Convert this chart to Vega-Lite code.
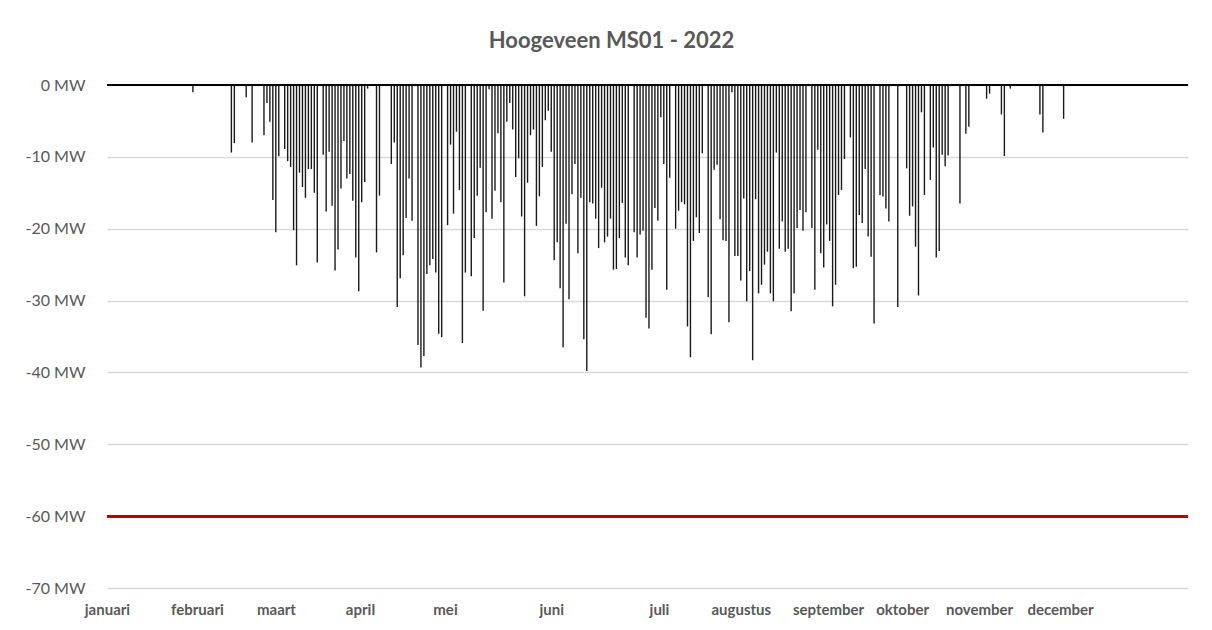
{
  "$schema": "https://vega.github.io/schema/vega-lite/v6.json",
  "width": 1081,
  "height": 503,
  "autosize": {"type": "none"},
  "padding": {"left": 107, "top": 85, "right": 24, "bottom": 42},
  "background": "white",
  "title": {"text": "Hoogeveen MS01 - 2022", "font": "Lato", "fontSize": 22, "fontWeight": "bold", "color": "#595959", "offset": 24, "anchor": "middle", "dx": -36},
  "config": {"view": {"stroke": null}},
  "data": {"values": [
    {"dag": "2022-01-30", "mw": -1.0},
    {"dag": "2022-02-12", "mw": -9.4},
    {"dag": "2022-02-13", "mw": -8.1},
    {"dag": "2022-02-17", "mw": -1.7},
    {"dag": "2022-02-19", "mw": -8.0},
    {"dag": "2022-02-23", "mw": -7.0},
    {"dag": "2022-02-24", "mw": -2.5},
    {"dag": "2022-02-25", "mw": -5.1},
    {"dag": "2022-02-26", "mw": -16.0},
    {"dag": "2022-02-27", "mw": -20.5},
    {"dag": "2022-02-28", "mw": -9.9},
    {"dag": "2022-03-02", "mw": -8.9},
    {"dag": "2022-03-03", "mw": -10.6},
    {"dag": "2022-03-04", "mw": -11.4},
    {"dag": "2022-03-05", "mw": -20.2},
    {"dag": "2022-03-06", "mw": -25.1},
    {"dag": "2022-03-07", "mw": -12.2},
    {"dag": "2022-03-08", "mw": -14.2},
    {"dag": "2022-03-09", "mw": -15.7},
    {"dag": "2022-03-10", "mw": -11.7},
    {"dag": "2022-03-11", "mw": -11.7},
    {"dag": "2022-03-12", "mw": -15.0},
    {"dag": "2022-03-13", "mw": -24.7},
    {"dag": "2022-03-15", "mw": -9.7},
    {"dag": "2022-03-16", "mw": -17.6},
    {"dag": "2022-03-17", "mw": -9.3},
    {"dag": "2022-03-18", "mw": -16.8},
    {"dag": "2022-03-19", "mw": -25.8},
    {"dag": "2022-03-20", "mw": -22.9},
    {"dag": "2022-03-21", "mw": -14.4},
    {"dag": "2022-03-22", "mw": -7.8},
    {"dag": "2022-03-23", "mw": -13.0},
    {"dag": "2022-03-24", "mw": -12.4},
    {"dag": "2022-03-25", "mw": -16.1},
    {"dag": "2022-03-26", "mw": -24.0},
    {"dag": "2022-03-27", "mw": -28.7},
    {"dag": "2022-03-28", "mw": -16.3},
    {"dag": "2022-03-29", "mw": -13.5},
    {"dag": "2022-03-30", "mw": -0.5},
    {"dag": "2022-04-02", "mw": -23.3},
    {"dag": "2022-04-03", "mw": -15.4},
    {"dag": "2022-04-07", "mw": -11.0},
    {"dag": "2022-04-08", "mw": -8.0},
    {"dag": "2022-04-09", "mw": -30.9},
    {"dag": "2022-04-10", "mw": -26.9},
    {"dag": "2022-04-11", "mw": -23.7},
    {"dag": "2022-04-12", "mw": -18.5},
    {"dag": "2022-04-13", "mw": -13.0},
    {"dag": "2022-04-14", "mw": -18.9},
    {"dag": "2022-04-16", "mw": -36.2},
    {"dag": "2022-04-17", "mw": -39.3},
    {"dag": "2022-04-18", "mw": -37.7},
    {"dag": "2022-04-19", "mw": -26.3},
    {"dag": "2022-04-20", "mw": -25.1},
    {"dag": "2022-04-21", "mw": -24.2},
    {"dag": "2022-04-22", "mw": -26.1},
    {"dag": "2022-04-23", "mw": -34.6},
    {"dag": "2022-04-24", "mw": -35.1},
    {"dag": "2022-04-26", "mw": -19.5},
    {"dag": "2022-04-27", "mw": -8.3},
    {"dag": "2022-04-28", "mw": -17.9},
    {"dag": "2022-04-29", "mw": -6.5},
    {"dag": "2022-04-30", "mw": -14.6},
    {"dag": "2022-05-01", "mw": -35.9},
    {"dag": "2022-05-02", "mw": -26.1},
    {"dag": "2022-05-04", "mw": -26.6},
    {"dag": "2022-05-05", "mw": -21.3},
    {"dag": "2022-05-06", "mw": -15.4},
    {"dag": "2022-05-07", "mw": -11.5},
    {"dag": "2022-05-08", "mw": -31.4},
    {"dag": "2022-05-09", "mw": -17.7},
    {"dag": "2022-05-10", "mw": -0.6},
    {"dag": "2022-05-11", "mw": -18.6},
    {"dag": "2022-05-12", "mw": -14.7},
    {"dag": "2022-05-13", "mw": -6.7},
    {"dag": "2022-05-14", "mw": -16.3},
    {"dag": "2022-05-15", "mw": -27.5},
    {"dag": "2022-05-16", "mw": -5.1},
    {"dag": "2022-05-17", "mw": -2.5},
    {"dag": "2022-05-18", "mw": -6.2},
    {"dag": "2022-05-19", "mw": -12.8},
    {"dag": "2022-05-20", "mw": -10.2},
    {"dag": "2022-05-21", "mw": -18.3},
    {"dag": "2022-05-22", "mw": -29.4},
    {"dag": "2022-05-23", "mw": -13.6},
    {"dag": "2022-05-24", "mw": -7.0},
    {"dag": "2022-05-25", "mw": -6.2},
    {"dag": "2022-05-26", "mw": -19.6},
    {"dag": "2022-05-27", "mw": -15.5},
    {"dag": "2022-05-28", "mw": -11.4},
    {"dag": "2022-05-29", "mw": -4.9},
    {"dag": "2022-05-30", "mw": -3.6},
    {"dag": "2022-05-31", "mw": -9.3},
    {"dag": "2022-06-01", "mw": -24.4},
    {"dag": "2022-06-02", "mw": -21.9},
    {"dag": "2022-06-03", "mw": -28.3},
    {"dag": "2022-06-04", "mw": -36.5},
    {"dag": "2022-06-05", "mw": -19.3},
    {"dag": "2022-06-06", "mw": -29.8},
    {"dag": "2022-06-07", "mw": -15.2},
    {"dag": "2022-06-08", "mw": -11.0},
    {"dag": "2022-06-09", "mw": -23.4},
    {"dag": "2022-06-10", "mw": -15.7},
    {"dag": "2022-06-11", "mw": -35.4},
    {"dag": "2022-06-12", "mw": -39.8},
    {"dag": "2022-06-13", "mw": -16.3},
    {"dag": "2022-06-14", "mw": -16.5},
    {"dag": "2022-06-15", "mw": -18.6},
    {"dag": "2022-06-16", "mw": -22.7},
    {"dag": "2022-06-17", "mw": -14.3},
    {"dag": "2022-06-18", "mw": -21.9},
    {"dag": "2022-06-19", "mw": -21.1},
    {"dag": "2022-06-20", "mw": -18.6},
    {"dag": "2022-06-21", "mw": -25.7},
    {"dag": "2022-06-22", "mw": -25.6},
    {"dag": "2022-06-23", "mw": -21.3},
    {"dag": "2022-06-24", "mw": -16.4},
    {"dag": "2022-06-25", "mw": -24.0},
    {"dag": "2022-06-26", "mw": -25.1},
    {"dag": "2022-06-28", "mw": -20.5},
    {"dag": "2022-06-29", "mw": -24.0},
    {"dag": "2022-06-30", "mw": -20.8},
    {"dag": "2022-07-01", "mw": -20.3},
    {"dag": "2022-07-02", "mw": -32.4},
    {"dag": "2022-07-03", "mw": -33.9},
    {"dag": "2022-07-04", "mw": -25.7},
    {"dag": "2022-07-05", "mw": -17.1},
    {"dag": "2022-07-06", "mw": -18.9},
    {"dag": "2022-07-07", "mw": -4.5},
    {"dag": "2022-07-08", "mw": -11.0},
    {"dag": "2022-07-09", "mw": -28.5},
    {"dag": "2022-07-10", "mw": -12.9},
    {"dag": "2022-07-12", "mw": -20.0},
    {"dag": "2022-07-13", "mw": -17.5},
    {"dag": "2022-07-14", "mw": -16.3},
    {"dag": "2022-07-15", "mw": -16.6},
    {"dag": "2022-07-16", "mw": -33.6},
    {"dag": "2022-07-17", "mw": -37.9},
    {"dag": "2022-07-18", "mw": -21.7},
    {"dag": "2022-07-19", "mw": -18.4},
    {"dag": "2022-07-20", "mw": -20.6},
    {"dag": "2022-07-21", "mw": -9.5},
    {"dag": "2022-07-23", "mw": -29.5},
    {"dag": "2022-07-24", "mw": -34.7},
    {"dag": "2022-07-25", "mw": -11.8},
    {"dag": "2022-07-26", "mw": -11.1},
    {"dag": "2022-07-27", "mw": -18.7},
    {"dag": "2022-07-28", "mw": -21.6},
    {"dag": "2022-07-29", "mw": -21.7},
    {"dag": "2022-07-30", "mw": -33.0},
    {"dag": "2022-07-31", "mw": -1.0},
    {"dag": "2022-08-01", "mw": -23.8},
    {"dag": "2022-08-02", "mw": -23.8},
    {"dag": "2022-08-03", "mw": -27.2},
    {"dag": "2022-08-04", "mw": -15.8},
    {"dag": "2022-08-05", "mw": -30.1},
    {"dag": "2022-08-06", "mw": -25.9},
    {"dag": "2022-08-07", "mw": -38.3},
    {"dag": "2022-08-08", "mw": -15.9},
    {"dag": "2022-08-09", "mw": -29.0},
    {"dag": "2022-08-10", "mw": -27.8},
    {"dag": "2022-08-11", "mw": -25.0},
    {"dag": "2022-08-12", "mw": -23.2},
    {"dag": "2022-08-13", "mw": -29.0},
    {"dag": "2022-08-14", "mw": -30.1},
    {"dag": "2022-08-15", "mw": -9.4},
    {"dag": "2022-08-16", "mw": -22.8},
    {"dag": "2022-08-17", "mw": -19.0},
    {"dag": "2022-08-18", "mw": -23.2},
    {"dag": "2022-08-19", "mw": -22.8},
    {"dag": "2022-08-20", "mw": -31.5},
    {"dag": "2022-08-21", "mw": -29.0},
    {"dag": "2022-08-22", "mw": -19.9},
    {"dag": "2022-08-23", "mw": -17.4},
    {"dag": "2022-08-24", "mw": -20.3},
    {"dag": "2022-08-25", "mw": -17.7},
    {"dag": "2022-08-27", "mw": -19.9},
    {"dag": "2022-08-28", "mw": -28.5},
    {"dag": "2022-08-29", "mw": -9.0},
    {"dag": "2022-08-30", "mw": -23.4},
    {"dag": "2022-08-31", "mw": -25.4},
    {"dag": "2022-09-01", "mw": -19.4},
    {"dag": "2022-09-02", "mw": -21.7},
    {"dag": "2022-09-03", "mw": -30.8},
    {"dag": "2022-09-04", "mw": -27.8},
    {"dag": "2022-09-05", "mw": -15.3},
    {"dag": "2022-09-06", "mw": -14.6},
    {"dag": "2022-09-07", "mw": -10.3},
    {"dag": "2022-09-09", "mw": -7.3},
    {"dag": "2022-09-10", "mw": -25.5},
    {"dag": "2022-09-11", "mw": -25.3},
    {"dag": "2022-09-12", "mw": -18.1},
    {"dag": "2022-09-13", "mw": -19.2},
    {"dag": "2022-09-14", "mw": -11.7},
    {"dag": "2022-09-15", "mw": -21.1},
    {"dag": "2022-09-16", "mw": -23.9},
    {"dag": "2022-09-17", "mw": -33.2},
    {"dag": "2022-09-19", "mw": -15.3},
    {"dag": "2022-09-20", "mw": -15.5},
    {"dag": "2022-09-21", "mw": -17.2},
    {"dag": "2022-09-22", "mw": -19.0},
    {"dag": "2022-09-25", "mw": -30.9},
    {"dag": "2022-09-28", "mw": -11.6},
    {"dag": "2022-09-29", "mw": -18.2},
    {"dag": "2022-09-30", "mw": -16.9},
    {"dag": "2022-10-01", "mw": -22.5},
    {"dag": "2022-10-02", "mw": -29.3},
    {"dag": "2022-10-03", "mw": -3.8},
    {"dag": "2022-10-04", "mw": -15.3},
    {"dag": "2022-10-06", "mw": -13.2},
    {"dag": "2022-10-07", "mw": -8.7},
    {"dag": "2022-10-08", "mw": -24.0},
    {"dag": "2022-10-09", "mw": -23.1},
    {"dag": "2022-10-10", "mw": -9.7},
    {"dag": "2022-10-11", "mw": -11.3},
    {"dag": "2022-10-12", "mw": -9.8},
    {"dag": "2022-10-16", "mw": -16.5},
    {"dag": "2022-10-18", "mw": -6.8},
    {"dag": "2022-10-19", "mw": -5.8},
    {"dag": "2022-10-25", "mw": -1.9},
    {"dag": "2022-10-26", "mw": -1.2},
    {"dag": "2022-10-30", "mw": -4.1},
    {"dag": "2022-10-31", "mw": -9.9},
    {"dag": "2022-11-02", "mw": -0.5},
    {"dag": "2022-11-12", "mw": -4.1},
    {"dag": "2022-11-13", "mw": -6.6},
    {"dag": "2022-11-20", "mw": -4.7}
  ]},
  "layer": [
    {
      "mark": {"type": "rule", "color": "#1a1a1a", "strokeWidth": 1.4},
      "encoding": {
        "x": {
          "field": "dag", "type": "temporal",
          "scale": {"type": "utc", "domain": [{"year": 2022, "month": 1, "date": 1, "utc": true}, {"year": 2023, "month": 1, "date": 1, "utc": true}]},
          "axis": {
            "values": [
              {"year": 2022, "month": 1, "date": 1, "utc": true},
              {"year": 2022, "month": 1, "date": 31, "hours": 9, "utc": true},
              {"year": 2022, "month": 2, "date": 27, "hours": 1, "utc": true},
              {"year": 2022, "month": 3, "date": 27, "hours": 10, "utc": true},
              {"year": 2022, "month": 4, "date": 25, "hours": 3, "utc": true},
              {"year": 2022, "month": 5, "date": 31, "utc": true},
              {"year": 2022, "month": 7, "date": 6, "hours": 9, "utc": true},
              {"year": 2022, "month": 8, "date": 3, "utc": true},
              {"year": 2022, "month": 9, "date": 1, "hours": 11, "utc": true},
              {"year": 2022, "month": 9, "date": 26, "hours": 11, "utc": true},
              {"year": 2022, "month": 10, "date": 22, "hours": 11, "utc": true},
              {"year": 2022, "month": 11, "date": 18, "hours": 19, "utc": true}
            ],
            "labelExpr": "['januari','februari','maart','april','mei','juni','juli','augustus','september','oktober','november','december'][round(datum.index * 11)]",
            "grid": false, "domain": false, "ticks": false, "tickSize": 0,
            "labelPadding": 14, "labelFont": "Lato", "labelFontSize": 15, "labelFontWeight": "bold",
            "labelColor": "#595959", "labelAlign": "center", "labelFlush": false, "labelOverlap": false,
            "title": null
          }
        },
        "y": {
          "field": "mw", "type": "quantitative",
          "scale": {"domain": [-70, 0], "nice": false, "zero": false},
          "axis": {
            "values": [-70, -60, -50, -40, -30, -20, -10, 0],
            "labelExpr": "datum.value + ' MW'",
            "grid": true, "gridColor": "#d9d9d9", "gridWidth": 1.3,
            "domain": false, "ticks": false, "tickSize": 0,
            "labelPadding": 22, "labelFont": "Lato", "labelFontSize": 16, "labelColor": "#595959",
            "title": null
          }
        },
        "y2": {"datum": 0}
      }
    },
    {
      "mark": {"type": "rule", "color": "#000000", "strokeWidth": 1.5},
      "encoding": {"y": {"datum": 0}}
    },
    {
      "mark": {"type": "rule", "color": "#C00000", "strokeWidth": 2},
      "encoding": {"y": {"datum": -60}}
    }
  ]
}
